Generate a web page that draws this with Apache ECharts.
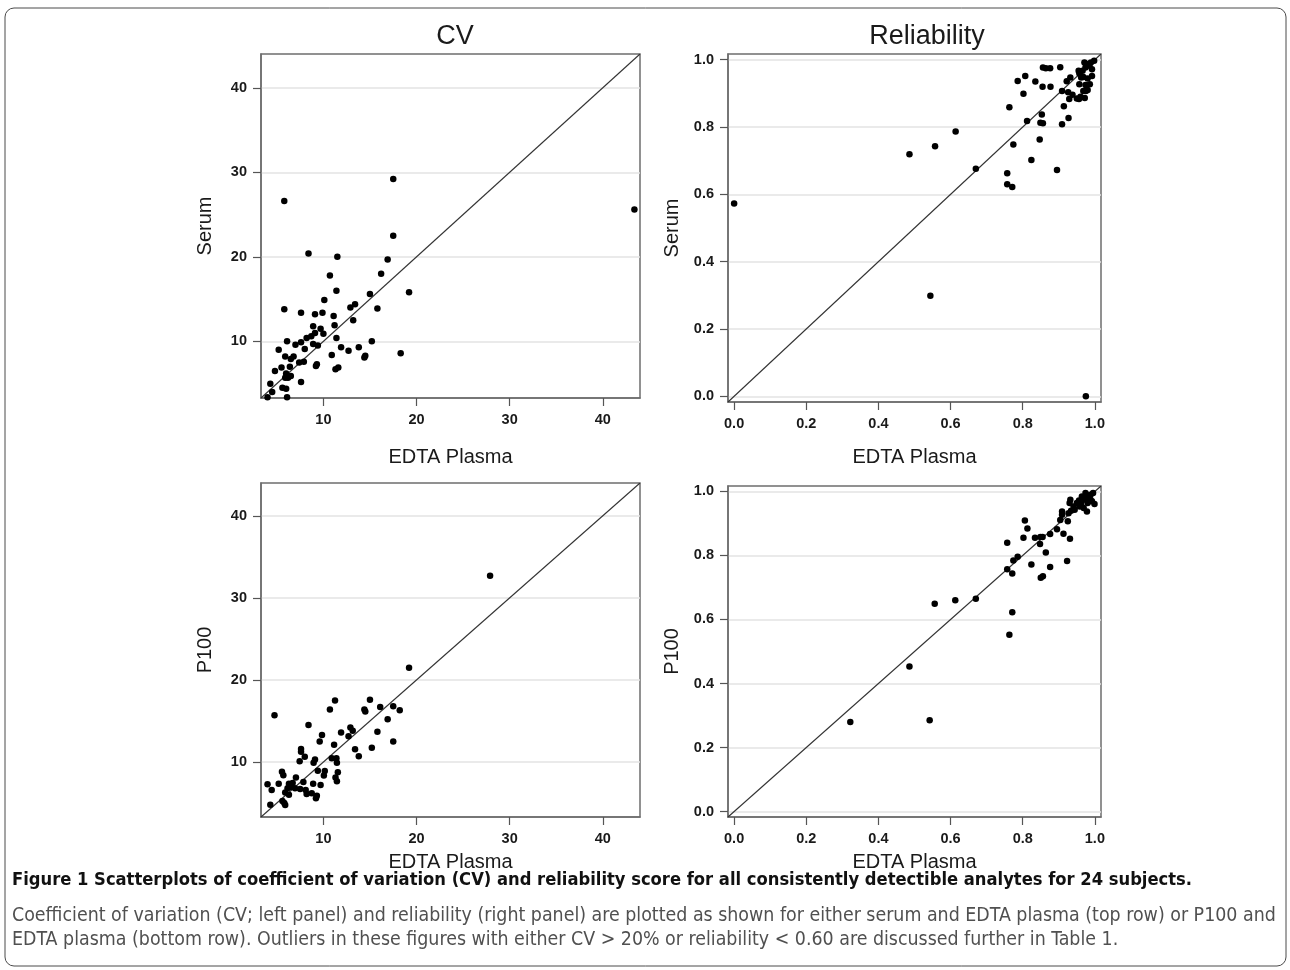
<!DOCTYPE html>
<html>
<head>
<meta charset="utf-8">
<script src="https://cdn.jsdelivr.net/npm/echarts@6/dist/echarts.min.js"></script>
<style>
html,body{margin:0;padding:0;background:#fff;}
#c{width:1290px;height:970px;}
</style>
</head>
<body>
<div id="c"></div>
<script>
// ---- data ----
const cvTicks = [10, 20, 30, 40];
const relTicks = [0, 0.2, 0.4, 0.6, 0.8, 1.0];
const cvRange = [3.3, 44];
const relRange = [-0.017, 1.017];

// CV: [EDTA Plasma, Serum]
const cvSerum = [
[8.4,20.4],[11.5,20.0],[16.9,19.7],[16.2,18.0],[10.7,17.8],[11.4,16.0],[19.2,15.8],[15.0,15.6],
[10.1,14.9],[13.4,14.4],[12.9,14.0],[15.8,13.9],[5.8,13.8],[7.6,13.4],[9.1,13.2],[9.9,13.4],
[11.1,13.0],[13.2,12.5],[8.9,11.8],[11.2,11.9],[9.7,11.5],[9.1,11.0],[10.0,10.9],[8.2,10.4],
[8.7,10.6],[6.1,10.0],[7.6,9.9],[7.0,9.6],[8.9,9.7],[9.4,9.5],[11.4,10.4],[15.2,10.0],
[11.9,9.3],[13.8,9.3],[12.7,8.9],[18.3,8.6],[5.2,9.0],[8.0,9.1],[5.9,8.2],[6.5,7.9],
[6.8,8.2],[10.9,8.4],[14.5,8.3],[14.4,8.1],[7.4,7.5],[7.9,7.6],[9.2,7.1],[9.3,7.3],
[4.8,6.5],[5.5,6.9],[6.4,7.0],[11.3,6.7],[11.6,6.9],[6.0,6.2],[6.2,5.7],[5.9,5.7],
[6.5,5.9],[7.6,5.2],[4.3,5.0],[5.6,4.5],[6.0,4.4],[4.5,4.0],[4.0,3.4],[6.1,3.4],
[5.8,26.6],[17.5,29.2],[43.4,25.6],[17.5,22.5]
];
// CV: [EDTA Plasma, P100]
const cvP100 = [
[19.2,21.5],[4.75,15.7],[11.25,17.5],[10.7,16.4],[15.0,17.6],[14.4,16.4],[14.5,16.15],[16.1,16.7],
[17.5,16.8],[18.2,16.3],[16.9,15.2],[8.4,14.5],[12.9,14.2],[13.15,13.8],[11.9,13.6],[9.85,13.3],
[12.7,13.15],[15.8,13.7],[9.6,12.5],[11.15,12.1],[17.5,12.5],[7.6,11.6],[7.6,11.25],[13.4,11.55],
[15.2,11.75],[13.8,10.7],[8.0,10.65],[7.45,10.1],[9.1,10.3],[8.95,9.9],[10.9,10.45],[11.4,10.45],
[11.45,9.9],[9.4,8.95],[10.15,8.9],[10.05,8.35],[11.55,8.75],[11.3,8.1],[11.45,7.65],[5.55,8.8],
[5.7,8.4],[7.05,8.1],[4.0,7.3],[5.2,7.35],[6.3,7.35],[6.7,7.45],[7.85,7.55],[8.9,7.35],
[9.7,7.2],[4.45,6.6],[6.15,6.8],[6.5,6.95],[6.95,6.8],[7.5,6.7],[8.1,6.6],[5.9,6.3],
[6.3,6.0],[8.2,6.1],[8.75,6.2],[9.2,5.6],[5.6,5.25],[5.9,4.75],[4.3,4.8],[9.3,5.9],
[5.8,5.0],[27.9,32.7]
];
// Reliability: [EDTA Plasma, Serum]
const relSerum = [
[0.0,0.573],[0.486,0.719],[0.557,0.743],[0.614,0.787],[0.670,0.676],[0.544,0.299],[0.757,0.663],[0.757,0.630],
[0.771,0.622],[0.774,0.748],[0.763,0.859],[0.786,0.937],[0.807,0.952],[0.802,0.899],[0.812,0.818],[0.975,0.0],
[0.824,0.702],[0.847,0.763],[0.853,0.837],[0.849,0.813],[0.856,0.811],[0.835,0.935],[0.855,0.920],[0.877,0.920],
[0.856,0.977],[0.864,0.975],[0.876,0.975],[0.904,0.978],[0.895,0.672],[0.909,0.808],[0.927,0.827],[0.914,0.862],
[0.909,0.907],[0.922,0.936],[0.932,0.947],[0.926,0.903],[0.929,0.883],[0.938,0.896],[0.950,0.885],[0.956,0.883],
[0.960,0.890],[0.972,0.886],[0.968,0.907],[0.980,0.910],[0.974,0.925],[0.986,0.927],[0.980,0.944],[0.968,0.949],
[0.957,0.959],[0.966,0.967],[0.955,0.967],[0.974,0.977],[0.980,0.987],[0.989,0.992],[0.998,0.997],[0.985,0.982],
[0.971,0.992],[0.992,0.972],[0.992,0.952],[0.962,0.947],[0.957,0.927],[0.975,0.907]
];
// Reliability: [EDTA Plasma, P100]
const relP100 = [
[0.322,0.280],[0.486,0.453],[0.542,0.285],[0.556,0.649],[0.613,0.660],[0.670,0.665],[0.757,0.757],[0.771,0.744],
[0.771,0.623],[0.763,0.552],[0.757,0.840],[0.774,0.784],[0.786,0.796],[0.802,0.855],[0.806,0.909],[0.813,0.884],
[0.824,0.772],[0.834,0.855],[0.848,0.836],[0.849,0.858],[0.855,0.858],[0.864,0.809],[0.850,0.730],[0.856,0.735],
[0.876,0.764],[0.876,0.867],[0.895,0.882],[0.913,0.868],[0.931,0.852],[0.923,0.783],[0.904,0.911],[0.909,0.927],
[0.909,0.937],[0.925,0.907],[0.927,0.932],[0.934,0.940],[0.944,0.943],[0.950,0.964],[0.956,0.972],[0.962,0.961],
[0.969,0.974],[0.976,0.979],[0.983,0.984],[0.988,0.990],[0.995,0.995],[0.980,0.964],[0.992,0.969],[0.999,0.961],
[0.978,0.937],[0.969,0.948],[0.964,0.984],[0.974,0.995],[0.988,0.974],[0.958,0.953],[0.941,0.953],[0.930,0.964],
[0.932,0.974]
];

const panelTitles = ['CV', 'Reliability'];
const xName = 'EDTA Plasma';
const yNames = ['Serum', 'Serum', 'P100', 'P100'];
const captionBold = 'Figure 1 Scatterplots of coefficient of variation (CV) and reliability score for all consistently detectible analytes for 24 subjects.';
const captionLines = [
  'Coefficient of variation (CV; left panel) and reliability (right panel) are plotted as shown for either serum and EDTA plasma (top row) or P100 and',
  'EDTA plasma (bottom row). Outliers in these figures with either CV > 20% or reliability < 0.60 are discussed further in Table 1.'
];

// ---- chart ----
const FONT = '"Liberation Sans", Arial, sans-serif';
const CAPFONT = '"DejaVu Sans Condensed", "Liberation Sans", sans-serif';
const grids = [
  {left: 261, top: 54, width: 379, height: 344},
  {left: 728, top: 54, width: 373, height: 348},
  {left: 261, top: 483, width: 379, height: 334},
  {left: 728, top: 486, width: 373, height: 331}
];
const nameGaps = [49, 45, 35, 35];
const panels = [
  {data: cvSerum, range: cvRange, ticks: cvTicks, fmt: v => String(v)},
  {data: relSerum, range: relRange, ticks: relTicks, fmt: v => v.toFixed(1)},
  {data: cvP100, range: cvRange, ticks: cvTicks, fmt: v => String(v)},
  {data: relP100, range: relRange, ticks: relTicks, fmt: v => v.toFixed(1)}
];

const axisLineStyle = {color: '#6e6e6e', width: 1.5};
const labelStyle = {fontFamily: FONT, fontWeight: 'bold', fontSize: 14.5, color: '#1a1a1a'};
const nameStyle = {fontFamily: FONT, fontSize: 20, color: '#1a1a1a'};

const xAxes = [], yAxes = [], series = [];
panels.forEach((p, i) => {
  xAxes.push({
    gridIndex: i, type: 'value', min: p.range[0], max: p.range[1],
    name: xName, nameLocation: 'middle', nameGap: nameGaps[i], nameTextStyle: nameStyle,
    axisLine: {show: true, onZero: false, lineStyle: axisLineStyle},
    axisTick: {show: true, length: 8, customValues: p.ticks, lineStyle: {color: '#555', width: 1.2}},
    axisLabel: {customValues: p.ticks, formatter: p.fmt, margin: 14, ...labelStyle},
    splitLine: {show: false}
  });
  yAxes.push({
    gridIndex: i, type: 'value', min: p.range[0], max: p.range[1],
    name: yNames[i], nameLocation: 'middle', nameGap: 46, nameTextStyle: nameStyle,
    axisLine: {show: true, onZero: false, lineStyle: axisLineStyle},
    axisTick: {show: true, length: 8, customValues: p.ticks, lineStyle: {color: '#555', width: 1.2}},
    axisLabel: {customValues: p.ticks, formatter: p.fmt, margin: 14, ...labelStyle},
    splitLine: {show: true, lineStyle: {color: '#e3e3e3', width: 1.5}}
  });
  series.push({
    type: 'line', xAxisIndex: i, yAxisIndex: i, silent: true, z: 2,
    showSymbol: false, symbol: 'none',
    data: [[p.range[0], p.range[0]], [p.range[1], p.range[1]]],
    lineStyle: {color: '#333', width: 1.1}
  });
  series.push({
    type: 'scatter', xAxisIndex: i, yAxisIndex: i, z: 3,
    symbolSize: 6.5, data: p.data,
    itemStyle: {color: '#000', opacity: 1}
  });
});

const chart = echarts.init(document.getElementById('c'), null, {renderer: 'canvas'});
chart.setOption({
  backgroundColor: '#fff',
  animation: false,
  title: [
    {text: panelTitles[0], left: 450, top: 18, textAlign: 'center',
     textStyle: {fontFamily: FONT, fontSize: 27, fontWeight: 'normal', color: '#1a1a1a'}},
    {text: panelTitles[1], left: 922, top: 18, textAlign: 'center',
     textStyle: {fontFamily: FONT, fontSize: 27, fontWeight: 'normal', color: '#1a1a1a'}}
  ],
  grid: grids.map(g => ({...g, show: true, borderColor: '#6e6e6e', borderWidth: 1.5, backgroundColor: 'transparent'})),
  xAxis: xAxes,
  yAxis: yAxes,
  series: series,
  graphic: [
    {type: 'rect', shape: {x: 5, y: 8, width: 1281, height: 958, r: 9}, silent: true,
     style: {fill: 'none', stroke: '#4a4a4a', lineWidth: 1}},
    {type: 'text', x: 12, y: 871, silent: true,
     style: {text: captionBold, font: 'bold 18.2px ' + CAPFONT, fill: '#111'}},
    {type: 'text', x: 12, y: 906, silent: true,
     style: {text: captionLines[0], font: '19.4px ' + CAPFONT, fill: '#505050'}},
    {type: 'text', x: 12, y: 930, silent: true,
     style: {text: captionLines[1], font: '19.4px ' + CAPFONT, fill: '#505050'}}
  ]
});
</script>
</body>
</html>
